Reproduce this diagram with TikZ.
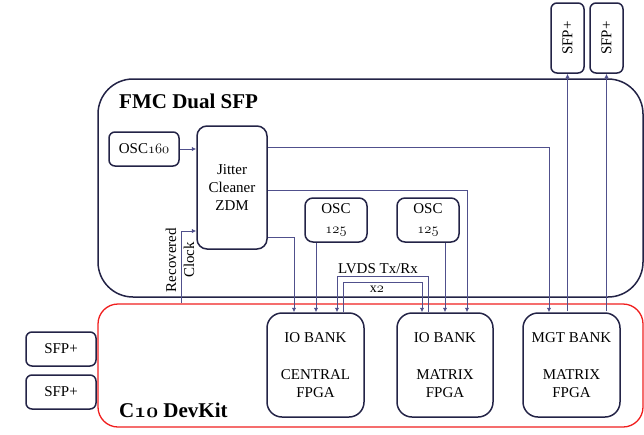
\documentclass[tikz,border=0pt]{standalone}
\usepackage{fontspec}
\setmainfont{Liberation Serif}
\usetikzlibrary{arrows.meta}
\definecolor{boxline}{RGB}{35,35,70}
\definecolor{conn}{RGB}{80,80,140}
\definecolor{kitred}{RGB}{240,30,30}
% old-style figures taken from the math italic font
\newcommand{\osn}[1]{{\usefont{OML}{cmm}{m}{it}#1}}
\newcommand{\osb}[1]{{\usefont{OML}{cmm}{b}{it}#1}}

\begin{document}
\begin{tikzpicture}[x=1pt,y=-1pt,
  blk/.style={draw=boxline, line width=1.5pt, align=center, inner sep=0pt,
              font=\fontsize{15}{18}\selectfont},
  link/.style={draw=conn, line width=1pt, -{Latex[length=4.5pt,width=4.5pt]}},
  wire/.style={draw=conn, line width=1pt},
  lbl/.style={inner sep=0pt, font=\fontsize{15}{18}\selectfont},
  title/.style={inner sep=0pt, anchor=west, font=\bfseries\fontsize{21}{24}\selectfont}]
\useasboundingbox (0,0) rectangle (644,434);

% carrier boards
\node[draw=boxline, line width=1.5pt, rounded corners=35pt,
      minimum width=545pt, minimum height=218pt] (fmc) at (370.5,188) {};
\node[draw=kitred, line width=1.3pt, rounded corners=20pt,
      minimum width=545pt, minimum height=123pt] (kit) at (370.5,365.5) {};
\node[title] (fmcT) at (119,101) {FMC Dual SFP};
\node[title] (kitT) at (119,410) {C\osb{10} DevKit};

% FMC components
\node[blk, rounded corners=6pt, minimum width=70pt, minimum height=34pt] (osc160) at (144,149) {OSC\osn{160}};
\node[blk, rounded corners=10pt, minimum width=70pt, minimum height=123pt] (jit) at (232,187.5) {Jitter\\Cleaner\\ZDM};
\node[blk, rounded corners=8pt, minimum width=62pt, minimum height=44pt,
      font=\fontsize{15}{20}\selectfont] (oscA) at (336,220) {OSC\\\osn{125}};
\node[blk, rounded corners=8pt, minimum width=62pt, minimum height=44pt,
      font=\fontsize{15}{20}\selectfont] (oscB) at (428,220) {OSC\\\osn{125}};

% DevKit banks
\node[blk, rounded corners=15pt, minimum width=97pt, minimum height=104pt,
      font=\fontsize{15}{18.3}\selectfont] (ioC) at (315.5,365) {IO BANK\\[18.3pt]CENTRAL\\FPGA};
\node[blk, rounded corners=15pt, minimum width=96pt, minimum height=104pt,
      font=\fontsize{15}{18.3}\selectfont] (ioM) at (445,365) {IO BANK\\[18.3pt]MATRIX\\FPGA};
\node[blk, rounded corners=15pt, minimum width=97pt, minimum height=104pt,
      font=\fontsize{15}{18.3}\selectfont] (mgt) at (571.5,365) {MGT BANK\\[18.3pt]MATRIX\\FPGA};

% SFP+ cages
\node[blk, rounded corners=6pt, minimum width=70pt, minimum height=34pt] (sfpL1) at (61,349) {SFP+};
\node[blk, rounded corners=6pt, minimum width=70pt, minimum height=34pt] (sfpL2) at (61,392) {SFP+};
\node[blk, rounded corners=6pt, minimum width=33pt, minimum height=70pt] (sfpT1) at (567.5,38) {\rotatebox{90}{SFP+}};
\node[blk, rounded corners=6pt, minimum width=33pt, minimum height=70pt] (sfpT2) at (606.5,38) {\rotatebox{90}{SFP+}};

% clock distribution
\draw[link] (osc160.east) -- (osc160.east -| jit.west);
\draw[link] (jit.east |- 0,147) -| ([xshift=-22.5pt]mgt.north);
\draw[link] (jit.east |- 0,190) -| ([xshift=22pt]ioM.north);
\draw[link] (jit.east |- 0,237) -| ([xshift=-21.5pt]ioC.north);
\draw[link] ([xshift=-20pt]oscA.south) -- ([xshift=-20pt]oscA.south |- ioC.north);
\draw[link] (oscB.south -| ioM.north) -- (ioM.north);

% recovered clock back into the jitter cleaner
\draw[link] (kit.north -| 181,0) |- (jit.west |- 0,231);
\node[lbl, rotate=90, align=center] (rec) at (180,260) {Recovered\\Clock};

% LVDS link between the FPGAs
\draw[link] ([xshift=27.5pt]ioC.north) -- ++(0,-30) -| ([xshift=-23pt]ioM.north);
\draw[link] ([xshift=-17pt]ioM.north) -- ++(0,-36) -| ([xshift=21.5pt]ioC.north);
\node[lbl] (lvds) at (378,269) {LVDS Tx/Rx};
\node[lbl, font=\fontsize{14}{16}\selectfont] (x2) at (377,289) {x\osn{2}};

% MGT lanes to the SFP+ cages
\draw[link] (sfpT1.south |- 0,311) -- (sfpT1.south);
\draw[link] (sfpT2.south |- 0,311) -- (sfpT2.south);
\end{tikzpicture}
\end{document}
